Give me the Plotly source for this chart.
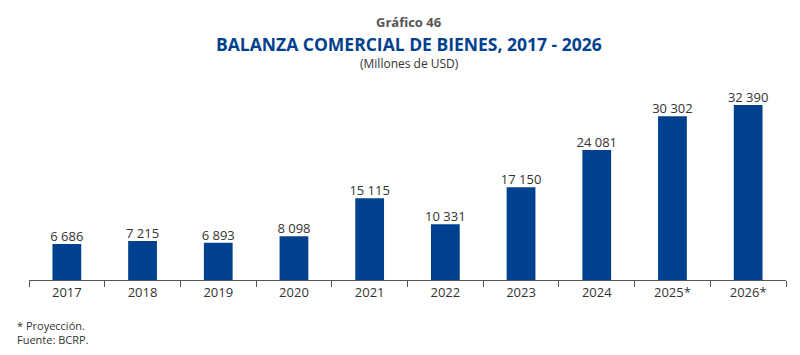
import plotly.graph_objects as go

years = ["2017", "2018", "2019", "2020", "2021", "2022", "2023", "2024", "2025*", "2026*"]
values = [6686, 7215, 6893, 8098, 15115, 10331, 17150, 24081, 30302, 32390]
labels = ["6 686", "7 215", "6 893", "8 098", "15 115", "10 331", "17 150", "24 081", "30 302", "32 390"]

BLUE = "#00418f"
FONT = "Open Sans"
W, H = 800, 355
ML, MR, MT, MB = 29, 14, 90, 75
plot_h = H - MT - MB
plot_w = W - ML - MR

def py(ypix):
    return (H - MB - ypix) / plot_h

def px(xpix):
    return (xpix - ML) / plot_w

fig = go.Figure()
fig.add_trace(go.Bar(
    x=years, y=values,
    marker=dict(color=BLUE, line=dict(width=0)),
    hoverinfo="x+y",
))
fig.add_trace(go.Scatter(
    x=years, y=values, text=labels, mode="text", textposition="top center",
    textfont=dict(family=FONT, size=13, color="#333333"),
    cliponaxis=False, hoverinfo="skip",
))

fig.update_layout(
    width=W, height=H,
    margin=dict(l=ML, r=MR, t=MT, b=MB),
    paper_bgcolor="white", plot_bgcolor="white",
    bargap=0.62,
    showlegend=False,
    xaxis=dict(
        type="category", tickson="boundaries", ticks="outside", ticklen=6,
        tickcolor="#555555", showline=True, linecolor="#555555", linewidth=1,
        showgrid=False, tickfont=dict(family=FONT, size=13, color="#333333"),
    ),
    yaxis=dict(visible=False, range=[0, 35170]),
    annotations=[
        dict(text="<b>Gráfico 46</b>", x=px(409), xref="paper", y=py(22), yref="paper",
             xanchor="center", yanchor="middle", showarrow=False,
             font=dict(family=FONT, size=13, color="#555555")),
        dict(text="<b>BALANZA COMERCIAL DE BIENES, 2017 - 2026</b>", x=px(409), xref="paper",
             y=py(44), yref="paper", xanchor="center", yanchor="middle", showarrow=False,
             font=dict(family=FONT, size=17.5, color=BLUE)),
        dict(text="(Millones de USD)", x=px(409), xref="paper", y=py(63), yref="paper",
             xanchor="center", yanchor="middle", showarrow=False,
             font=dict(family=FONT, size=12, color="#333333")),
        dict(text="* Proyección.", x=px(15), xref="paper", y=py(325), yref="paper",
             xanchor="left", yanchor="middle", showarrow=False,
             font=dict(family=FONT, size=11, color="#333333")),
        dict(text="Fuente: BCRP.", x=px(15), xref="paper", y=py(339), yref="paper",
             xanchor="left", yanchor="middle", showarrow=False,
             font=dict(family=FONT, size=11, color="#333333")),
    ],
)

fig.write_html("out.html", config={"displayModeBar": False},
               post_script="document.body.style.margin='0';")
